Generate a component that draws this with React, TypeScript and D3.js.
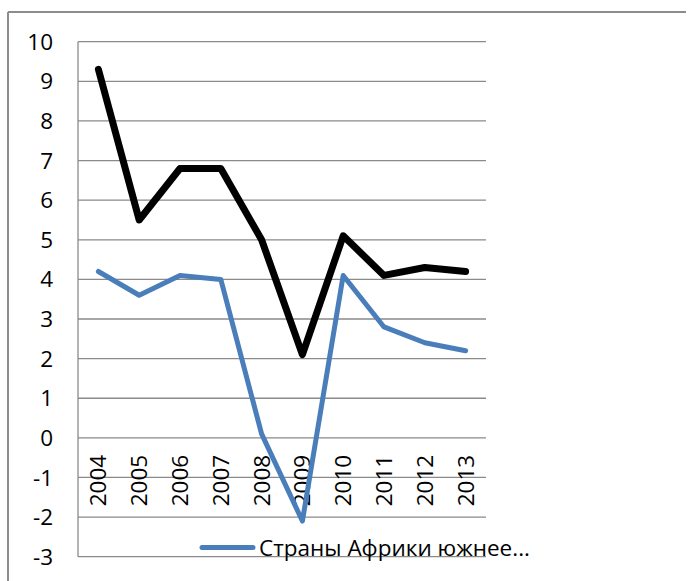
import React, { useEffect, useRef } from 'react';
import * as d3 from 'd3';

const years = ['2004', '2005', '2006', '2007', '2008', '2009', '2010', '2011', '2012', '2013'];
const blackSeries = [9.3, 5.5, 6.8, 6.8, 5.0, 2.1, 5.1, 4.1, 4.3, 4.2];
const blueSeries = [4.2, 3.6, 4.1, 4.0, 0.1, -2.1, 4.1, 2.8, 2.4, 2.2];
const yTicks = [10, 9, 8, 7, 6, 5, 4, 3, 2, 1, 0, -1, -2, -3];
const legendLabel = 'Страны Африки южнее...';

const W = 689;
const H = 581;
const font = '"Open Sans", "Noto Sans", sans-serif';

export default function App() {
  const ref = useRef<SVGSVGElement>(null);

  useEffect(() => {
    const svg = d3.select(ref.current);
    svg.selectAll('*').remove();

    const left = 78, right = 486, top = 41.7, bottom = 556.7;

    const x = d3.scaleBand().domain(years).range([left, right]);
    const y = d3.scaleLinear().domain([-3, 10]).range([bottom, top]);
    const cx = (d: string) => (x(d) as number) + x.bandwidth() / 2;

    // outer frame
    svg.append('line').attr('x1', 8).attr('x2', 686).attr('y1', 12).attr('y2', 12)
      .attr('stroke', '#8c8c8c').attr('stroke-width', 2);
    svg.append('line').attr('x1', 8).attr('x2', 8).attr('y1', 12).attr('y2', H)
      .attr('stroke', '#8c8c8c').attr('stroke-width', 2);

    // gridlines
    svg.append('g').selectAll('line').data(yTicks).join('line')
      .attr('x1', left).attr('x2', right)
      .attr('y1', d => y(d)).attr('y2', d => y(d))
      .attr('stroke', '#8a8a8a').attr('stroke-width', 1.3);
    svg.append('line').attr('x1', left).attr('x2', left).attr('y1', top).attr('y2', bottom)
      .attr('stroke', '#8a8a8a').attr('stroke-width', 1.3);

    // y labels
    svg.append('g').selectAll('text').data(yTicks).join('text')
      .attr('x', 53).attr('y', d => y(d)).attr('dy', '0.36em')
      .attr('text-anchor', 'end')
      .style('font-family', font).style('font-size', '22.5px').attr('fill', '#000')
      .text(d => d);

    // x labels rotated
    svg.append('g').selectAll('text').data(years).join('text')
      .attr('transform', d => `translate(${cx(d) + 8},${y(0) + 17}) rotate(-90)`)
      .attr('text-anchor', 'end')
      .style('font-family', font).style('font-size', '22.5px').attr('fill', '#000')
      .text(d => d);

    const line = d3.line<number>()
      .x((_, i) => cx(years[i]))
      .y(d => y(d));

    svg.append('path').datum(blackSeries).attr('d', line)
      .attr('fill', 'none').attr('stroke', '#000').attr('stroke-width', 7)
      .attr('stroke-linejoin', 'round').attr('stroke-linecap', 'round');

    svg.append('path').datum(blueSeries).attr('d', line)
      .attr('fill', 'none').attr('stroke', '#4a7ebb').attr('stroke-width', 5)
      .attr('stroke-linejoin', 'round').attr('stroke-linecap', 'round');

    // legend
    svg.append('line').attr('x1', 202).attr('x2', 253).attr('y1', 547.5).attr('y2', 547.5)
      .attr('stroke', '#4a7ebb').attr('stroke-width', 5).attr('stroke-linecap', 'round');
    svg.append('text').attr('x', 259).attr('y', 547.5).attr('dy', '0.36em')
      .style('font-family', font).style('font-size', '22.5px').attr('fill', '#000')
      .text(legendLabel);
  }, []);

  return (
    <svg ref={ref} width={W} height={H}
      style={{ position: 'absolute', left: 0, top: 0, background: '#fff' }} />
  );
}
